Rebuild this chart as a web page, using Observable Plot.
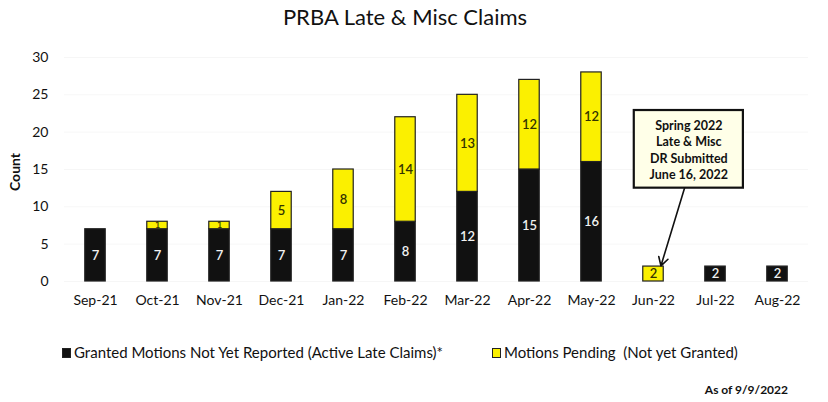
<!DOCTYPE html>
<html>
<head>
<meta charset="utf-8">
<script src="https://cdn.jsdelivr.net/npm/d3@7"></script>
<script src="https://cdn.jsdelivr.net/npm/@observablehq/plot@0.6"></script>
<style>
  body { margin: 0; background: #fff; font-family: Lato, "Open Sans", sans-serif; color: #111; }
  #wrap { position: relative; width: 828px; height: 402px; }
  #title { position: absolute; left: 0; top: 3px; width: 810px; text-align: center; font-size: 22px; }
  #chart { position: absolute; left: 0; top: 36px; }
  #legend { position: absolute; left: 0; top: 343px; width: 828px; height: 20px; font-size: 15px; }
  #legend > span { position: absolute; top: 0; white-space: pre; }
  .sw { display: inline-block; width: 7px; height: 8px; border: 1.5px solid #222; margin-right: 3px; vertical-align: 0px; }
  #asof { position: absolute; right: 40px; top: 382px; font-size: 12px; font-weight: 700; }
</style>
</head>
<body>
<div id="wrap">
  <div id="title">PRBA Late &amp; Misc Claims</div>
  <div id="chart"></div>
  <div id="legend"></div>
  <div id="asof">As of 9/9/2022</div>
</div>
<script>
const months = ["Sep-21","Oct-21","Nov-21","Dec-21","Jan-22","Feb-22","Mar-22","Apr-22","May-22","Jun-22","Jul-22","Aug-22"];
const granted = [7,7,7,7,7,8,12,15,16,0,2,2];
const pending = [0,1,1,5,8,14,13,12,12,2,0,0];
const seriesNames = ["Granted Motions Not Yet Reported (Active Late Claims)*", "Motions Pending  (Not yet Granted)"];
const seriesColors = ["#111111", "#fbf000"];
const annotationText = "Spring 2022\nLate & Misc\nDR Submitted\nJune 16, 2022";
const yTicks = [0,5,10,15,20,25,30];

const rows = [];
months.forEach((m, i) => {
  if (granted[i] > 0) rows.push({i, month: m, series: seriesNames[0], value: granted[i]});
  if (pending[i] > 0) rows.push({i, month: m, series: seriesNames[1], value: pending[i]});
});

const halfW = 0.165;
const stackOpts = {order: seriesNames, z: "series"};

const chart = Plot.plot({
  width: 828,
  height: 282,
  marginLeft: 64,
  marginRight: 20,
  marginTop: 21,
  marginBottom: 37,
  style: {fontFamily: "Lato, 'Open Sans', sans-serif", fontSize: "14px", color: "#111", background: "transparent"},
  x: {domain: [-0.5, 11.5], ticks: months.map((_, i) => i), tickFormat: i => months[i], tickSize: 0, tickPadding: 14, label: null},
  y: {domain: [0, 30], ticks: yTicks, tickSize: 0, tickPadding: 16, label: null},
  color: {domain: seriesNames, range: seriesColors},
  marks: [
    Plot.ruleY(yTicks, {stroke: "#000", strokeOpacity: 0.035}),
    Plot.rectY(rows, Plot.stackY({...stackOpts, x1: d => d.i - halfW, x2: d => d.i + halfW, y: "value", fill: "series", stroke: "#222", strokeWidth: 1.2})),
    Plot.text(rows, Plot.stackY({...stackOpts, x: "i", y: "value", text: d => String(d.value),
      fill: d => d.series === seriesNames[0] ? "#f2f2f2" : "#333300",
      fontSize: d => d.value < 2 ? 9 : 13, fontWeight: 600})),
    Plot.rect([annotationText], {x1: 8.69, x2: 10.45, y1: 12.5, y2: 22.9, fill: "#ffffe8", stroke: "#111", strokeWidth: 2.2}),
    Plot.text([annotationText], {x: 9.57, y: 17.7, text: d => d, fontSize: 12.5, fontWeight: 700, lineHeight: 1.3, fill: "#111"}),
    Plot.arrow([annotationText], {x1: 9.5, y1: 12.5, x2: 9.12, y2: 2.1, stroke: "#111", strokeWidth: 1.6, headLength: 9})
  ]
});
document.getElementById("chart").appendChild(chart);

// y axis title
const svg = d3.select(chart);
svg.append("text")
  .attr("transform", "translate(20,136) rotate(-90)")
  .attr("text-anchor", "middle")
  .attr("font-size", 14)
  .attr("font-weight", 700)
  .attr("fill", "#111")
  .text("Count");

const legend = document.getElementById("legend");
const legendLeft = [62, 492];
seriesNames.forEach((n, k) => {
  const s = document.createElement("span");
  s.innerHTML = `<span class="sw" style="background:${seriesColors[k]}"></span>` + n.replace(/&/g, "&amp;");
  s.style.left = legendLeft[k] + "px";
  legend.appendChild(s);
});
</script>
</body>
</html>
